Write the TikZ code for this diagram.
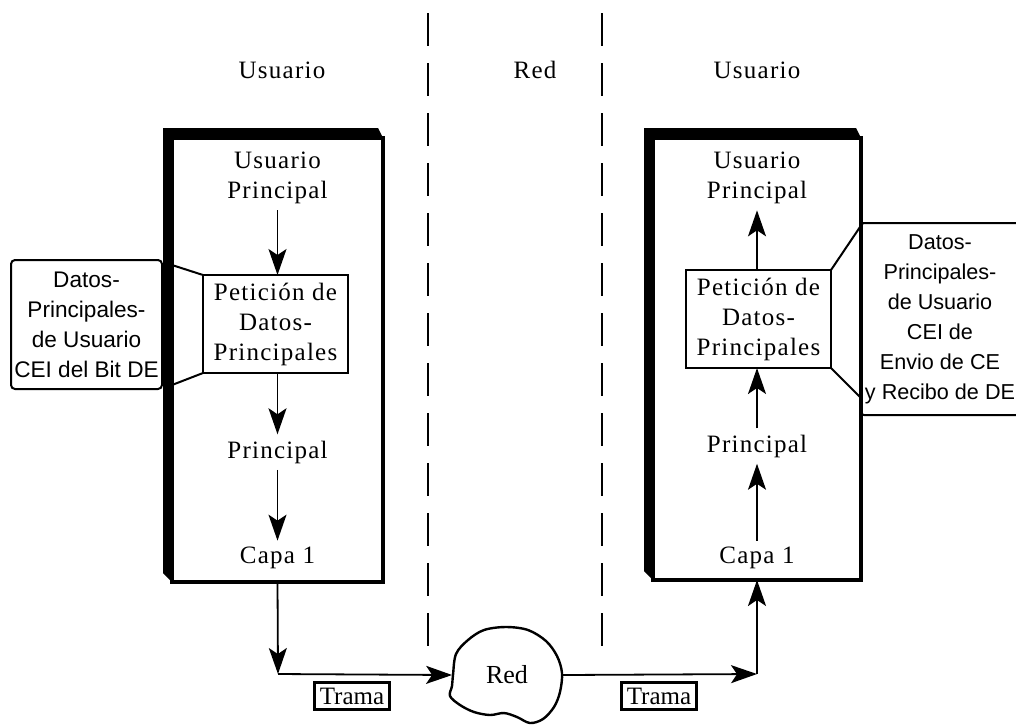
\documentclass[tikz,border=0pt]{standalone}
\usepackage{fontspec}
\setmainfont{Liberation Serif}
\newfontfamily\sidefont{Liberation Sans}
\usetikzlibrary{arrows.meta,calc}

\begin{document}
\begin{tikzpicture}[x=0.5pt,y=-0.5pt,
  lbl/.style={font=\fontsize{12.5}{15}\selectfont\addfontfeatures{LetterSpace=5},
    align=center, inner sep=3pt},
  head/.style={lbl},
  pet/.style={lbl, draw, line width=1pt, minimum width=72.5pt, minimum height=49pt,
    inner sep=2pt, outer sep=0pt},
  side/.style={draw, line width=1pt, rounded corners=2pt, align=center,
    font=\sidefont\fontsize{11.3}{15}\selectfont, inner sep=1pt, outer sep=0pt},
  frame/.style={draw, line width=1.8pt, outer sep=0pt, inner sep=0pt},
  trama/.style={draw, line width=1.7pt, inner sep=1.5pt, minimum width=37.5pt,
    minimum height=13.5pt, font=\fontsize{12.5}{13}\selectfont},
  arr/.style={line width=0.9pt, -{Stealth[length=13pt,width=9pt,inset=3pt]}},
  callout/.style={line width=1pt},
  dline/.style={line width=1pt, dash pattern=on 16.5pt off 8.5pt},
]
\useasboundingbox (0,0) rectangle (1016,725);

% column titles and separators
\node[head] (tl) at (282,70) {Usuario};
\node[head] (tm) at (535,70) {Red};
\node[head] (tr) at (757,70) {Usuario};
\draw[dline] (428,13) -- (428,647);
\draw[dline] (602,13) -- (602,647);

% left station frame with raised top/left edge
\node[frame, minimum width=105.5pt, minimum height=222pt] (lbox) at (277.5,360) {};
\fill ($(lbox.north west)+(-9,-10)$) -- ($(lbox.north east)+(-5,-10)$) --
      (lbox.north east) -- (lbox.north west) -- (lbox.south west) --
      ($(lbox.south west)+(-9,-9)$) -- cycle;

% right station frame
\node[frame, minimum width=104pt, minimum height=221pt] (rbox) at (757,359) {};
\fill ($(rbox.north west)+(-9,-10)$) -- ($(rbox.north east)+(-5,-10)$) --
      (rbox.north east) -- (rbox.north west) -- (rbox.south west) --
      ($(rbox.south west)+(-9,-9)$) -- cycle;

% left stack (downwards)
\node[lbl] (lusr) at (277.5,178) {Usuario\\Principal};
\node[pet] (lpet) at (275.5,324) {Petición de\\Datos-\\Principales};
\node[lbl] (lpri) at (277.5,452) {Principal};
\node[lbl] (lcap) at (277.5,558) {Capa 1};
\draw[arr] (lusr.south) -- (lusr.south |- lpet.north);
\draw[arr] (lpri.north |- lpet.south) -- (lpri.north);
\draw[arr] (lpri.south) -- (lcap.north);

% right stack (upwards)
\node[lbl] (rusr) at (757,178) {Usuario\\Principal};
\node[pet] (rpet) at (758.5,319) {Petición de\\Datos-\\Principales};
\node[lbl] (rpri) at (757,446) {Principal};
\node[lbl] (rcap) at (757,558) {Capa 1};
\draw[arr] (rusr.south |- rpet.north) -- (rusr.south);
\draw[arr] (rpri.north) -- (rpri.north |- rpet.south);
\draw[arr] (rcap.north) -- (rpri.south);

% side notes
\node[side, minimum width=75.5pt, minimum height=64.5pt] (lside) at (86.5,324.5)
  {Datos-\\Principales-\\de Usuario\\CEI del Bit DE};
\node[side, minimum width=80pt, minimum height=96pt,
  font=\sidefont\fontsize{10.8}{15}\selectfont] (rside) at (940,319)
  {Datos-\\Principales-\\de Usuario\\CEI de\\Envio de CE\\y Recibo de DE};
\coordinate (lcA) at (172,265);
\coordinate (lcB) at (172,385);
\draw[callout] (lcA) -- (lpet.north west);
\draw[callout] (lcB) -- (lpet.south west);
\draw[callout] (rpet.north east) -- ($(rside.north west)+(0,4)$);
\draw[callout] (rpet.south east) -- ($(rside.south west)+(0,-18)$);

% network cloud
\node[font=\fontsize{13}{15}\selectfont, minimum width=54.5pt,
  inner sep=0pt] (cloud) at (507,675) {Red};
\draw[line width=1.2pt] plot[smooth cycle, tension=0.55] coordinates {
  (453,675) (456,654) (468,640) (484,630) (506,627) (528,630) (546,641)
  (557,656) (562,673) (560,692) (554,707) (543,719) (530,723) (517,717)
  (504,713) (490,715) (474,712) (460,705) (450,696) (452,686)};

% frame path through the network
\coordinate (lc) at (278,674);
\coordinate (rc) at (757,674);
\draw[arr] (lbox.south) -- (lc);
\draw[arr] (lc) -- (cloud.west);
\draw[arr] (cloud.east) -- (rc);
\draw[arr] (rc) -- (rbox.south);
\node[trama] (tra1) at (352,696) {Trama};
\node[trama] (tra2) at (659,696) {Trama};
\end{tikzpicture}
\end{document}
